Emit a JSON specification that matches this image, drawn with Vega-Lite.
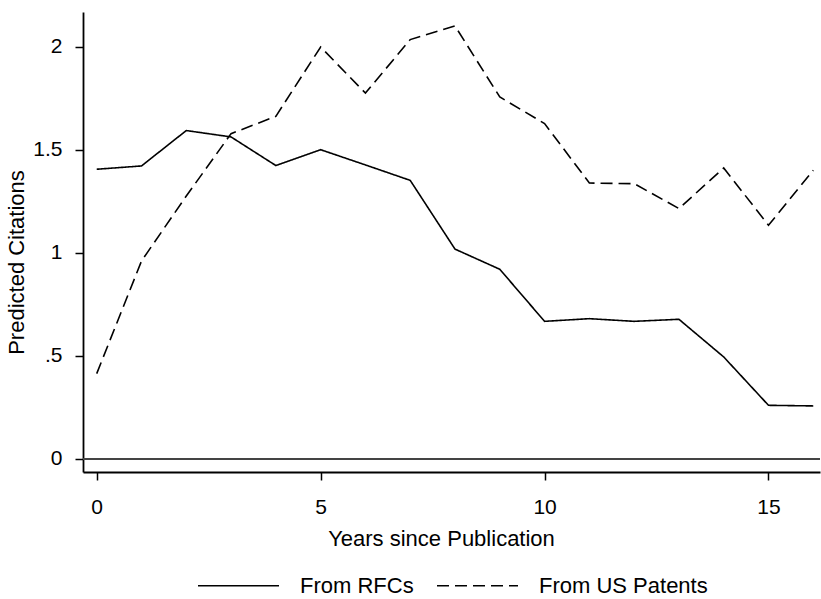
{
  "$schema": "https://vega.github.io/schema/vega-lite/v6.json",
  "autosize": {"type": "none"},
  "padding": {"left": 83, "top": 12, "right": 1, "bottom": 127},
  "width": 737,
  "height": 460,
  "background": "white",
  "config": {
    "view": {"stroke": null},
    "font": "Liberation Sans",
    "axis": {"grid": false, "domainColor": "black", "domainWidth": 1.8, "tickColor": "black", "tickWidth": 1.5, "tickSize": 8, "labelColor": "black", "titleColor": "black", "labelFont": "Liberation Sans", "titleFont": "Liberation Sans", "labelFontSize": 21, "titleFontSize": 22, "titleFontWeight": "normal"}
  },
  "data": {
    "values": [
      {"year": 0, "series": "From RFCs", "value": 1.406},
      {"year": 1, "series": "From RFCs", "value": 1.422},
      {"year": 2, "series": "From RFCs", "value": 1.594},
      {"year": 3, "series": "From RFCs", "value": 1.563},
      {"year": 4, "series": "From RFCs", "value": 1.424},
      {"year": 5, "series": "From RFCs", "value": 1.501},
      {"year": 6, "series": "From RFCs", "value": 1.427},
      {"year": 7, "series": "From RFCs", "value": 1.352},
      {"year": 8, "series": "From RFCs", "value": 1.018},
      {"year": 9, "series": "From RFCs", "value": 0.92},
      {"year": 10, "series": "From RFCs", "value": 0.667},
      {"year": 11, "series": "From RFCs", "value": 0.68},
      {"year": 12, "series": "From RFCs", "value": 0.667},
      {"year": 13, "series": "From RFCs", "value": 0.677},
      {"year": 14, "series": "From RFCs", "value": 0.494},
      {"year": 15, "series": "From RFCs", "value": 0.259},
      {"year": 16, "series": "From RFCs", "value": 0.256},
      {"year": 0, "series": "From US Patents", "value": 0.413},
      {"year": 1, "series": "From US Patents", "value": 0.96},
      {"year": 2, "series": "From US Patents", "value": 1.276},
      {"year": 3, "series": "From US Patents", "value": 1.579},
      {"year": 4, "series": "From US Patents", "value": 1.663},
      {"year": 5, "series": "From US Patents", "value": 2.0},
      {"year": 6, "series": "From US Patents", "value": 1.776},
      {"year": 7, "series": "From US Patents", "value": 2.036},
      {"year": 8, "series": "From US Patents", "value": 2.102},
      {"year": 9, "series": "From US Patents", "value": 1.757},
      {"year": 10, "series": "From US Patents", "value": 1.628},
      {"year": 11, "series": "From US Patents", "value": 1.339},
      {"year": 12, "series": "From US Patents", "value": 1.336},
      {"year": 13, "series": "From US Patents", "value": 1.215},
      {"year": 14, "series": "From US Patents", "value": 1.412},
      {"year": 15, "series": "From US Patents", "value": 1.134},
      {"year": 16, "series": "From US Patents", "value": 1.401}
    ]
  },
  "layer": [
    {
      "mark": {"type": "rule", "color": "#444", "strokeWidth": 1.2},
      "encoding": {"y": {"datum": 0, "type": "quantitative"}}
    },
    {
      "mark": {"type": "line", "color": "black", "strokeWidth": 1.6},
      "encoding": {
        "x": {
          "field": "year", "type": "quantitative",
          "scale": {"domain": [-0.306, 16.15], "nice": false, "zero": false},
          "axis": {"values": [0, 5, 10, 15], "title": "Years since Publication", "labelPadding": 16, "titleX": 358, "titleY": 73, "titleBaseline": "alphabetic", "titleAnchor": "start", "titleAlign": "center"}
        },
        "y": {
          "field": "value", "type": "quantitative",
          "scale": {"domain": [-0.065, 2.17], "nice": false, "zero": false},
          "axis": {"values": [0, 0.5, 1, 1.5, 2], "title": "Predicted Citations", "labelPadding": 13, "labelExpr": "datum.value == 0.5 ? '.5' : format(datum.value, '~g')", "titleX": -55, "titleY": 250, "titleBaseline": "bottom", "titleAlign": "center", "titleAngle": -90}
        },
        "strokeDash": {
          "field": "series", "type": "nominal",
          "scale": {"domain": ["From RFCs", "From US Patents"], "range": [[1, 0], [12, 6]]},
          "legend": {
            "title": null, "orient": "none", "direction": "horizontal",
            "legendX": 114, "legendY": 532,
            "symbolType": "stroke", "symbolSize": 6561, "symbolStrokeWidth": 1.5, "symbolStrokeColor": "black",
            "labelFontSize": 22, "labelFont": "Liberation Sans", "labelColor": "black", "labelOffset": 20, "labelBaseline": "middle", "labelLimit": 400,
            "columnPadding": 20, "padding": 0
          }
        },
        "detail": {"field": "series"}
      }
    }
  ]
}
